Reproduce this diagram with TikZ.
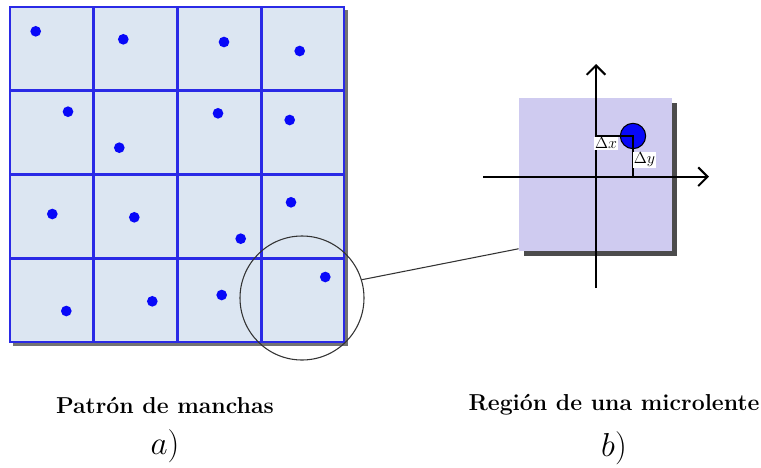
\documentclass[tikz,border=0pt]{standalone}
\usetikzlibrary{positioning,arrows.meta,shadows}
\definecolor{cellfill}{HTML}{DCE6F2}
\definecolor{cellline}{HTML}{2A2AE6}
\definecolor{spotblue}{HTML}{0808F8}
\definecolor{lensfill}{HTML}{CFCBF0}

\tikzset{
  spot/.style={circle, fill=spotblue, inner sep=0pt, minimum size=8pt},
  cellrule/.style={cellline, line width=1.6pt},
  axis/.style={line width=1.5pt, -{Straight Barb[length=7pt,width=14pt]}},
  deltalabel/.style={fill=white, inner sep=1pt, font=\large},
  caption/.style={font=\LARGE\bfseries}
}

\begin{document}
\begin{tikzpicture}[x=0.75pt,y=-0.75pt]
\useasboundingbox (0,0) rectangle (761,468);

% patron de manchas
\fill[black!55] (13,10) rectangle (348,346);
\draw[cellrule, fill=cellfill] (10,7) rectangle (344,342);
\foreach \x in {93.5,177.5,261.5}
  \draw[cellrule] (\x,7) -- (\x,342);
\foreach \y in {90.5,174.5,258.5}
  \draw[cellrule] (10,\y) -- (344,\y);
\foreach \x/\y in {35.7/31.3, 123.3/39.3, 224/42, 299.7/51,
                   68/111.7, 119.3/147.7, 218/113.3, 289.7/120,
                   52.3/214, 134.3/217.3, 240.7/238.7, 291/202.3,
                   66.3/311, 152.3/301.3, 221.7/295, 325.3/277}
  \node[spot] at (\x,\y) {};
\node (lens) [circle, draw=black!80, line width=0.8pt, minimum size=93pt, inner sep=0pt] at (302,298) {};

% region de una microlente
\node (region) [fill=lensfill, minimum size=115pt, inner sep=0pt,
  drop shadow={shadow xshift=3.5pt, shadow yshift=-3.5pt, opacity=0.7, fill=black}] at (595.5,174.5) {};
\draw[black!80, line width=0.8pt] (lens.17) -- ([yshift=2pt]region.south west);

\coordinate (origin) at (596,176.7);
\draw[axis] (596,288) -- (596,64);
\draw[axis] (483,176.7) -- (709,176.7);
\node (microspot) [circle, draw=black, line width=0.8pt, fill=spotblue, minimum size=19pt, inner sep=0pt] at (633,136) {};
\draw[line width=0.9pt] (origin |- microspot) -- (microspot.center) -- (microspot |- origin);
\node[deltalabel] at (606,143.5) {$\Delta x$};
\node[deltalabel] at (644.5,160) {$\Delta y$};

% pies
\node (capa) [caption] at (165,405) {Patrón de manchas};
\node (taga) [below=5pt of capa, font=\Huge] {$a)$};
\node (capb) [caption] at (614,405) {Región de una microlente};
\node (tagb) [below=5pt of capb, font=\Huge] {$b)$};
\end{tikzpicture}
\end{document}
